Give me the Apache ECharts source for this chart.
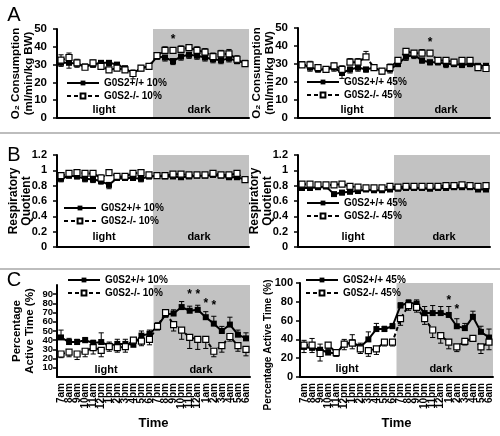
<!DOCTYPE html>
<html><head><meta charset="utf-8">
<script src="https://cdn.jsdelivr.net/npm/echarts@6/dist/echarts.min.js"></script>
<style>html,body{margin:0;padding:0;background:#fff}#c{width:500px;height:436px}</style>
</head><body><div id="c"></div>
<script>
const hours = ['7am','8am','9am','10am','11am','12pm','1pm','2pm','3pm','4pm','5pm','6pm','7pm','8pm','9pm','10pm','11pm','12am','1am','2am','3am','4am','5am','6am'];
const darkStart = 12, darkEnd = 23;
// A: O2 consumption
const o2WT10 = [31,31,30.5,29,30,31,31,30,28,25,28,29,34.5,34,32,34.5,35.5,35,34,33,32.5,33.5,32,31];
const o2KO10 = [32.5,34,31,28.5,31,29,27,28,27,25,28,29,35,38,38,38.5,39.5,38,37,34.5,36,36,33,30.5];
const o2WT10Err = [2,3,2,1.5,1.5,2,1.5,1.5,2,3,1.5,1.5,1.5,2,2,2,2,2,2,2,2,2,1.5,1.5];
const o2KO10Err = [3,2.5,2,1.5,1.5,2,1.5,1.5,2,2,1.5,1.5,1.5,2,1.5,2,1.5,2,2,2,2,2.5,2,1.5];
const o2WT45 = [30,28,27,27,28,25,27,28,27,28,26,27,30,34,35,32,31,31,30,30,29.5,30,29,29];
const o2KO45 = [29.5,29.5,28,27,29,27,31,31,34,28,26,28,32,37,36,36,36,32,32,31,32,32,28,27.5];
const o2WT45Err = [1.5,2,1.5,1.5,2,3,2,2,1.5,1.5,1.5,2,1.5,2,2,1.5,1.5,1.5,2,1.5,1.5,1.5,1.5,1.5];
const o2KO45Err = [1.5,2,1.5,1.5,1.5,2,2,2,3,1.5,1.5,2,1.5,1.5,1.5,2,1.5,1.5,1.5,1.5,1.5,1.5,1.5,1.5];
// B: respiratory quotient
const rqWT10 = [0.89,0.93,0.92,0.89,0.88,0.86,0.81,0.90,0.90,0.90,0.89,0.92,0.93,0.92,0.92,0.91,0.92,0.93,0.93,0.94,0.93,0.91,0.91,0.88];
const rqKO10 = [0.93,0.96,0.97,0.96,0.96,0.90,0.97,0.92,0.92,0.96,0.97,0.94,0.93,0.93,0.95,0.95,0.94,0.94,0.94,0.96,0.94,0.94,0.96,0.88];
const rqWT10Err = [0.04,0.03,0.03,0.04,0.04,0.04,0.05,0.03,0.03,0.03,0.04,0.03,0.02,0.02,0.02,0.02,0.02,0.02,0.02,0.02,0.02,0.02,0.02,0.03];
const rqKO10Err = [0.03,0.03,0.03,0.03,0.03,0.04,0.04,0.03,0.03,0.03,0.03,0.03,0.02,0.02,0.02,0.02,0.02,0.02,0.02,0.02,0.02,0.02,0.03,0.03];
const rqWT45 = [0.77,0.77,0.78,0.79,0.69,0.71,0.72,0.73,0.75,0.74,0.74,0.75,0.76,0.77,0.77,0.77,0.76,0.77,0.77,0.78,0.78,0.78,0.75,0.75];
const rqKO45 = [0.82,0.82,0.81,0.81,0.81,0.82,0.79,0.78,0.77,0.77,0.77,0.79,0.78,0.79,0.79,0.79,0.79,0.79,0.80,0.80,0.81,0.80,0.79,0.80];
const rqWT45Err = [0.03,0.03,0.02,0.03,0.03,0.03,0.02,0.02,0.02,0.02,0.02,0.02,0.02,0.02,0.02,0.02,0.02,0.02,0.02,0.02,0.02,0.02,0.02,0.02];
const rqKO45Err = [0.02,0.02,0.02,0.02,0.02,0.02,0.02,0.02,0.02,0.02,0.02,0.02,0.02,0.02,0.02,0.02,0.02,0.02,0.02,0.02,0.02,0.02,0.02,0.02];
// C: percentage active time
const paWT10 = [43,38,38,40,37,38,34,36,36,35,45,47,55,68,69,76,72,73,65,58,50,57,46,42];
const paKO10 = [25,27,25,28,32,29,33,32,33,40,39,41,55,70,57,51,43,41,41,28,34,44,34,30];
const paWT10Err = [8,4,3,3,3,10,4,5,5,6,5,4,4,5,4,6,5,5,6,8,5,8,5,6];
const paKO10Err = [4,5,6,6,7,7,5,5,6,4,5,6,4,5,7,10,12,11,10,6,7,5,6,7];
const paWT45 = [32,31,29,26,25,35,37,32,40,51,51,54,76,79,78,68,68,68,66,54,52,64,48,42];
const paKO45 = [34,34,25,34,26,35,36,30,28,30,37,37,62,76,74,62,50,44,37,32,38,41,32,37];
const paWT45Err = [7,10,6,3,3,5,8,4,8,6,3,3,3,3,4,7,8,7,9,8,5,6,6,9];
const paKO45Err = [8,8,8,4,4,6,6,5,6,6,4,4,7,5,5,6,8,8,7,5,4,3,7,8];
// asterisks (category index, y position)
const starA10Idx = [14], starA10Y = [44];
const starA45Idx = [16], starA45Y = [42];
const starC10Idx = [16,17,18,19], starC10Y = [89,89,80,77];
const starC45Idx = [18,19], starC45Y = [81,72];

const WT10 = 'G0S2+/+ 10%', KO10 = 'G0S2-/- 10%', WT45 = 'G0S2+/+ 45%', KO45 = 'G0S2-/- 45%';
const F = '"Liberation Sans", Arial, Helvetica, sans-serif';

const chart = echarts.init(document.getElementById('c'), null, {renderer:'canvas'});

const grids = [
  {left:57, top:29, width:192, height:89},
  {left:298, top:28, width:192, height:90},
  {left:57, top:155, width:192, height:92},
  {left:298, top:155, width:192, height:92},
  {left:57, top:285, width:193, height:92},
  {left:300, top:283, width:193, height:94}
];
const yCfg = [
  {min:0,max:50,interval:10,name:'O₂ Consumption\n(ml/min/kg BW)',fs:11.5,gap:22,nfs:11.5,m:10,pad:0},
  {min:0,max:50,interval:10,name:'O₂ Consumption\n(ml/min/kg BW)',fs:11.5,gap:22,nfs:11.5,m:10,pad:0},
  {min:0,max:1.2,interval:0.2,name:'Respiratory\nQuotient',fs:11,gap:24,nfs:12,m:10,pad:0},
  {min:0,max:1.2,interval:0.2,name:'Respiratory\nQuotient',fs:11,gap:24,nfs:12,m:10,pad:0},
  {min:0,max:100,interval:10,name:'Percentage\nActive Time (%)',fs:9.5,gap:21,nfs:11.5,m:4,pad:0},
  {min:0,max:100,interval:20,name:'Percentage Active Time (%)',fs:11,gap:25,nfs:10,m:7,pad:[0,30,0,0]}
];

const xAxes = grids.map((g,i)=>{
  const isC = i>=4;
  return {
    type:'category', gridIndex:i, data:hours, boundaryGap:true,
    axisLine:{lineStyle:{color:'#000', width:2}},
    axisTick:{show:false},
    axisLabel:{show:isC, interval:0, rotate:90, fontSize:10, fontWeight:'bold', color:'#000', fontFamily:F, margin:6, hideOverlap:false},
    name: isC ? 'Time' : '', nameLocation:'middle', nameGap:40, nameMoveOverlap:false,
    nameTextStyle:{fontSize:13, fontWeight:'bold', color:'#000', fontFamily:F}
  };
});
const yAxes = yCfg.map((c,i)=>({
  type:'value', gridIndex:i, min:c.min, max:c.max, interval:c.interval,
  axisLine:{show:true, lineStyle:{color:'#000', width:2}},
  axisTick:{show:true, length:4, lineStyle:{color:'#000', width:1.5}},
  splitLine:{show:false},
  axisLabel:{fontSize:c.fs, fontWeight:'bold', color:'#000', fontFamily:F, margin:c.m},
  name:c.name, nameLocation:'middle', nameRotate:90, nameGap:c.gap, nameMoveOverlap:false,
  nameTextStyle:{fontSize:c.nfs, fontWeight:'bold', color:'#000', fontFamily:F, lineHeight:13, padding:c.pad}
}));

function shadeItem(params, api){
  const p0 = api.coord([api.value(0), api.value(2)]);
  const p1 = api.coord([api.value(1), 0]);
  const bw = api.size([1,0])[0];
  return {type:'rect', shape:{x:p0[0]-bw/2, y:p0[1], width:p1[0]-p0[0]+bw, height:p1[1]-p0[1]}, style:{fill:'#c2c2c2'}, silent:true};
}
function errItem(dir){
  return function(params, api){
    const i = api.value(0), v = api.value(1), e = api.value(2);
    const a = api.coord([i, v]), b = api.coord([i, v + dir*e]);
    const hw = 2.6;
    return {type:'group', children:[
      {type:'line', shape:{x1:a[0],y1:a[1],x2:b[0],y2:b[1]}, style:{stroke:'#000', lineWidth:1}},
      {type:'line', shape:{x1:b[0]-hw,y1:b[1],x2:b[0]+hw,y2:b[1]}, style:{stroke:'#000', lineWidth:1}}
    ]};
  };
}
function starItem(params, api){
  const p = api.coord([api.value(0), api.value(1)]);
  return {type:'text', x:p[0], y:p[1], style:{text:'*', fill:'#000', font:'bold 12px '+F, textAlign:'center', textVerticalAlign:'middle'}};
}

const series = [];
function panel(i, wtName, wt, wtErr, wtDir, koName, ko, koErr, koDir, starIdx, starY){
  const ymax = yCfg[i].max;
  series.push({type:'custom', xAxisIndex:i, yAxisIndex:i, renderItem:shadeItem, data:[[darkStart, darkEnd, ymax]], encode:{x:0,y:2}, z:0, silent:true, clip:false});
  series.push({type:'custom', xAxisIndex:i, yAxisIndex:i, renderItem:errItem(wtDir), data:wt.map((v,k)=>[k,v,wtErr[k]]), encode:{x:0,y:1}, z:3, silent:true});
  series.push({type:'custom', xAxisIndex:i, yAxisIndex:i, renderItem:errItem(koDir), data:ko.map((v,k)=>[k,v,koErr[k]]), encode:{x:0,y:1}, z:3, silent:true});
  series.push({type:'line', name:wtName, xAxisIndex:i, yAxisIndex:i, data:wt, symbol:'rect', symbolSize:6, showSymbol:true, showAllSymbol:true,
    lineStyle:{color:'#000', width:2, type:'solid'}, itemStyle:{color:'#000', borderColor:'#000', borderWidth:0}, z:5});
  series.push({type:'line', name:koName, xAxisIndex:i, yAxisIndex:i, data:ko, symbol:'rect', symbolSize:6, showSymbol:true, showAllSymbol:true,
    lineStyle:{color:'#000', width:2, type:[4,3]}, itemStyle:{color:'#fff', borderColor:'#000', borderWidth:1.2}, z:6});
  if (starIdx) series.push({type:'custom', xAxisIndex:i, yAxisIndex:i, renderItem:starItem, data:starIdx.map((s,k)=>[s, starY[k]]), encode:{x:0,y:1}, z:7, silent:true});
}
panel(0, WT10, o2WT10, o2WT10Err, -1, KO10, o2KO10, o2KO10Err, 1, starA10Idx, starA10Y);
panel(1, WT45, o2WT45, o2WT45Err, -1, KO45, o2KO45, o2KO45Err, 1, starA45Idx, starA45Y);
panel(2, WT10, rqWT10, rqWT10Err, -1, KO10, rqKO10, rqKO10Err, 1, null, null);
panel(3, WT45, rqWT45, rqWT45Err, -1, KO45, rqKO45, rqKO45Err, 1, null, null);
panel(4, WT10, paWT10, paWT10Err, 1, KO10, paKO10, paKO10Err, -1, starC10Idx, starC10Y);
panel(5, WT45, paWT45, paWT45Err, 1, KO45, paKO45, paKO45Err, -1, starC45Idx, starC45Y);

function mkLegend(names, left, top){
  return {data:names, left, top, orient:'vertical', itemWidth:32, itemHeight:6, itemGap:3, padding:0, selectedMode:false, z:20,
    textStyle:{fontSize:10, fontWeight:'bold', color:'#000', fontFamily:F}};
}
const legends = [
  mkLegend([WT10, KO10], 66, 78),
  mkLegend([WT45, KO45], 306, 77),
  mkLegend([WT10, KO10], 63, 203),
  mkLegend([WT45, KO45], 306, 198),
  mkLegend([WT10, KO10], 67, 275),
  mkLegend([WT45, KO45], 305, 275)
];

function txt(x, y, s, size, weight){
  return {type:'text', x, y, z:100, silent:true, style:{text:s, fill:'#000', font:(weight||'bold')+' '+size+'px '+F, textAlign:'center', textVerticalAlign:'middle'}};
}
const graphic = [
  {type:'line', z:100, shape:{x1:0,y1:133,x2:500,y2:133}, style:{stroke:'#bdbdbd', lineWidth:2}, silent:true},
  {type:'line', z:100, shape:{x1:0,y1:269,x2:500,y2:269}, style:{stroke:'#bdbdbd', lineWidth:2}, silent:true},
  txt(14, 15, 'A', 20, 'normal'),
  txt(14, 155, 'B', 20, 'normal'),
  txt(14, 280, 'C', 20, 'normal'),
  txt(104, 110, 'light', 11), txt(199, 110, 'dark', 11),
  txt(352, 110, 'light', 11), txt(446, 110, 'dark', 11),
  txt(104, 237, 'light', 11), txt(199, 237, 'dark', 11),
  txt(353, 237, 'light', 11), txt(444, 237, 'dark', 11),
  txt(106, 370, 'light', 11), txt(201, 370, 'dark', 11),
  txt(347, 369, 'light', 11), txt(441, 369, 'dark', 11)
];

chart.setOption({
  animation:false,
  backgroundColor:'#fff',
  textStyle:{fontFamily:F},
  grid:grids, xAxis:xAxes, yAxis:yAxes, legend:legends, series, graphic
});
</script></body></html>
